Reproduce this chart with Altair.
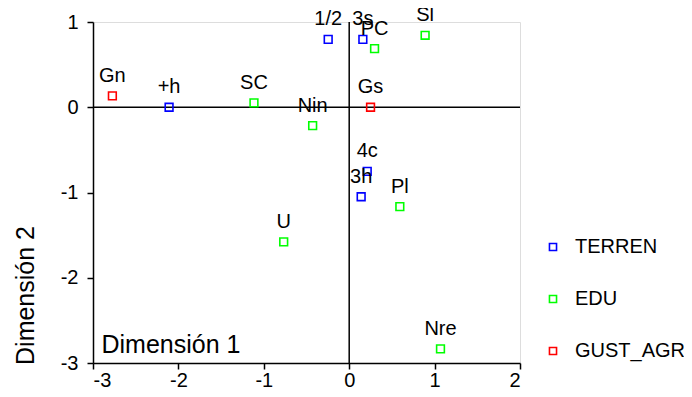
import altair as alt
import pandas as pd

labels = ["1/2", "3s", "+h", "4c", "3h",
          "PC", "Sl", "SC", "Nin", "Pl", "U", "Nre",
          "Gn", "Gs"]
dim1 = [-0.246, 0.160, -2.109, 0.211, 0.140,
        0.297, 0.889, -1.115, -0.428, 0.593, -0.767, 1.069,
        -2.773, 0.250]
dim2 = [0.796, 0.796, 0.000, -0.753, -1.050,
        0.687, 0.844, 0.052, -0.215, -1.165, -1.580, -2.835,
        0.134, 0.000]
groups = ["TERREN"] * 5 + ["EDU"] * 7 + ["GUST_AGR"] * 2
group_order = ["TERREN", "EDU", "GUST_AGR"]
group_colors = ["#0000ff", "#00ff00", "#ff0000"]

df = pd.DataFrame({"label": labels, "d1": dim1, "d2": dim2, "grp": groups})
refs = pd.DataFrame({"v": [0]})

FONT = "Liberation Sans"

xenc = alt.X("d1:Q", scale=alt.Scale(domain=[-3, 2], nice=False, zero=False),
             axis=alt.Axis(title="Dimensión 1", values=[-3, -2, -1, 0, 1, 2],
                           labelExpr="'' + datum.value",
                           grid=False, domainColor="black", domainWidth=1.5,
                           tickColor="black", tickWidth=1.5, tickSize=6,
                           labelFontSize=20, labelColor="black", labelPadding=1,
                           labelFont=FONT, titleFont=FONT, titleFontSize=25,
                           titleFontWeight="normal", titleColor="black",
                           titleAnchor="start", titleAlign="left",
                           titleBaseline="alphabetic", titleX=8, titleY=-11))
yenc = alt.Y("d2:Q", scale=alt.Scale(domain=[-3, 1], nice=False, zero=False),
             axis=alt.Axis(title="Dimensión 2", values=[-3, -2, -1, 0, 1],
                           labelExpr="'' + datum.value",
                           grid=False, domainColor="black", domainWidth=1.5,
                           tickColor="black", tickWidth=1.5, tickSize=6,
                           labelFontSize=20, labelColor="black", labelPadding=9,
                           labelFont=FONT, titleFont=FONT, titleFontSize=25,
                           titleFontWeight="normal", titleColor="black",
                           titleAngle=-90, titleAlign="center",
                           titleBaseline="alphabetic", titleX=-60, titleY=273))

base = alt.Chart(df)

points = base.mark_point(shape="square", filled=False, size=60, strokeWidth=1.6, opacity=1).encode(
    x=xenc, y=yenc,
    color=alt.Color("grp:N", scale=alt.Scale(domain=group_order, range=group_colors),
                    sort=group_order,
                    legend=alt.Legend(title=None, orient="none", legendX=450, legendY=215,
                                      symbolType="square", symbolSize=50, symbolStrokeWidth=1.6,
                                      symbolFillColor="transparent",
                                      labelFontSize=20, labelFont=FONT, labelColor="black",
                                      labelOffset=12, rowPadding=32)),
)

text = base.mark_text(fontSize=20, font=FONT, color="black", baseline="alphabetic",
                      align="center", dy=-14).encode(
    x="d1:Q", y="d2:Q", text="label:N")

vline = alt.Chart(refs).mark_rule(color="black", strokeWidth=1.5).encode(x="v:Q")
hline = alt.Chart(refs).mark_rule(color="black", strokeWidth=1.5).encode(y="v:Q")

chart = alt.layer(vline, hline, points, text).properties(
    width=427, height=341,
    autosize=alt.AutoSizeParams(type="none"),
    padding={"left": 85, "top": 14, "right": 164, "bottom": 26},
).configure_view(stroke="black", strokeWidth=1.5).configure(background="white")

chart.save("out.html", embed_options={"renderer": "svg", "actions": False})
